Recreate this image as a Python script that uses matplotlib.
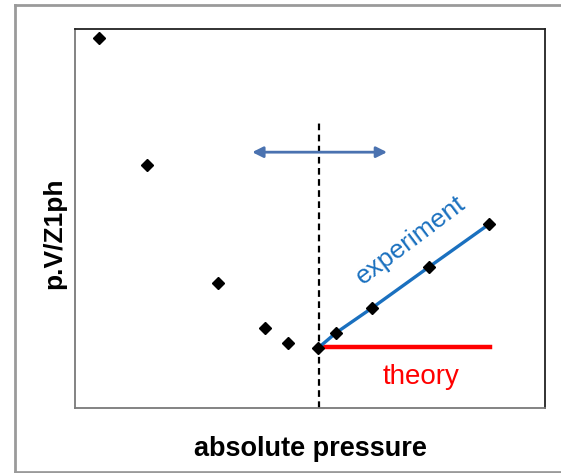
import matplotlib.pyplot as plt
from matplotlib.lines import Line2D

plt.rcParams['font.family'] = ['Liberation Sans', 'DejaVu Sans']

# measured points, arbitrary units (0-100 on both axes)
pressure = [5.1, 15.3, 30.4, 40.4, 45.3, 51.7, 55.5, 63.2, 75.3, 88.1]
pv_z = [97.6, 64.1, 33.0, 21.1, 17.2, 15.8, 19.8, 26.4, 37.2, 48.5]

# points that belong to the experiment line
exp_start = 5

theory_x = [51.7, 88.3]
theory_y = [16.0, 16.0]

split_x = 51.9
split_top = 75.2

arrow_x = [37.7, 66.4]
arrow_y = 67.5

fig = plt.figure(figsize=(5.61, 4.73), dpi=100)
ax = fig.add_axes([75 / 561, 65 / 473, 470 / 561, 379 / 473])

ax.set_xlim(0, 100)
ax.set_ylim(0, 100)
ax.set_xticks([])
ax.set_yticks([])

for side in ['top', 'right']:
    ax.spines[side].set_color('#222222')
    ax.spines[side].set_linewidth(1.3)
for side in ['left', 'bottom']:
    ax.spines[side].set_color('#7a7a7a')
    ax.spines[side].set_linewidth(1.3)

ax.plot([split_x, split_x], [0, split_top], color='black', linestyle=(0, (3, 2)),
        linewidth=1.6, zorder=2)

ax.annotate('', xy=(arrow_x[0], arrow_y), xytext=(arrow_x[1], arrow_y),
            arrowprops=dict(arrowstyle='<|-|>', color='#4a72b0', lw=2,
                            mutation_scale=16, shrinkA=0, shrinkB=0))

ax.plot(theory_x, theory_y, color='#ff0000', linewidth=3.2, zorder=3)
ax.plot(pressure[exp_start:], pv_z[exp_start:], color='#1a70bf', linewidth=2.4, zorder=3)
ax.plot(pressure, pv_z, linestyle='none', marker='D', markersize=6.6,
        color='black', zorder=4)

ax.text(71.5, 44.3, 'experiment', color='#1a70bf', fontsize=19, rotation=37,
        ha='center', va='center', rotation_mode='anchor')
ax.text(73.7, 8.2, 'theory', color='#ff0000', fontsize=20, ha='center', va='center')

ax.set_xlabel('absolute pressure', fontsize=19.5, fontweight='bold', labelpad=20)
fig.text(54 / 561, 1 - 233 / 473, 'p.V/Z1ph', fontsize=19, fontweight='bold',
         rotation=90, ha='center', va='center')

# outer frame of the original slide snippet
frame = dict(color='#9a9a9a', linewidth=2, transform=fig.transFigure)
fig.add_artist(Line2D([15 / 561, 15 / 561], [1 - 472 / 473, 1 - 5 / 473], **frame))
fig.add_artist(Line2D([15 / 561, 1], [1 - 5 / 473, 1 - 5 / 473], **frame))
fig.add_artist(Line2D([15 / 561, 1], [1 - 472 / 473, 1 - 472 / 473], **frame))

plt.savefig('out.png', dpi=100)
